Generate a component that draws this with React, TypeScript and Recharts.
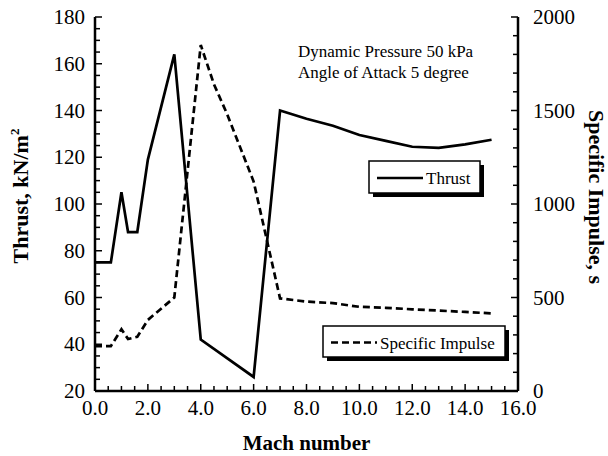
import React from "react";
import { LineChart, Line, XAxis, YAxis, Legend } from "recharts";

// Mach sweep at q = 50 kPa, alpha = 5 deg
const mach = [0, 0.6, 1.0, 1.25, 1.6, 2.0, 3.0, 4.0, 4.5, 5.0, 6.0, 7.0, 8.0, 9.0, 10.0, 11.0, 12.0, 13.0, 14.0, 15.0];
const thrust = [75, 75, 105, 88, 88, 119, 164, 42, null, null, 26, 140, 136.5, 133.5, 129.5, 127, 124.5, 124, 125.5, 127.5];
const specificImpulse = [240, 240, 330, 278, 290, 380, 500, 1850, 1640, 1480, 1120, 495, 478, 470, 450, 445, 437, 430, 423, 415];

const machLabels = [0, 2, 4, 6, 8, 10, 12, 14, 16];
const thrustLabels = [20, 40, 60, 80, 100, 120, 140, 160, 180];
const ispLabels = [0, 500, 1000, 1500, 2000];

const annotation = ["Dynamic Pressure 50 kPa", "Angle of Attack 5 degree"];

// minor ticks between the labelled ones
const withMinor = (labels: number[], parts: number) => {
  const out: number[] = [];
  labels.forEach((v, i) => {
    out.push(v);
    if (i < labels.length - 1) {
      const step = (labels[i + 1] - v) / parts;
      for (let k = 1; k < parts; k++) out.push(v + step * k);
    }
  });
  return out;
};

const machTicks = withMinor(machLabels, 4);
const thrustTicks = withMinor(thrustLabels, 4);
const ispTicks = withMinor(ispLabels, 5);

const rows = mach.map((m, i) => ({ mach: m, thrust: thrust[i], isp: specificImpulse[i] }));

const FONT = "Liberation Serif, DejaVu Serif, serif";
const fontStyle = { fontFamily: FONT };

const BottomTick = ({ x, y, payload }: any) => {
  const major = machLabels.includes(payload.value);
  return (
    <g>
      <line x1={x} y1={y} x2={x} y2={y - (major ? 7 : 5)} stroke="#000" strokeWidth={1.5} />
      {major && (
        <text x={x} y={y + 24} textAnchor="middle" fontSize={21} style={fontStyle} fill="#000">
          {payload.value.toFixed(1)}
        </text>
      )}
    </g>
  );
};

const TopTick = ({ x, y, payload }: any) => {
  const major = machLabels.includes(payload.value);
  return <line x1={x} y1={y} x2={x} y2={y + (major ? 7 : 5)} stroke="#000" strokeWidth={1.5} />;
};

const LeftTick = ({ x, y, payload }: any) => {
  const major = thrustLabels.includes(payload.value);
  return (
    <g>
      <line x1={x} y1={y} x2={x + (major ? 7 : 5)} y2={y} stroke="#000" strokeWidth={1.5} />
      {major && (
        <text x={x - 10} y={y + 7} textAnchor="end" fontSize={21} style={fontStyle} fill="#000">
          {payload.value}
        </text>
      )}
    </g>
  );
};

const RightTick = ({ x, y, payload }: any) => {
  const major = ispLabels.includes(payload.value);
  return (
    <g>
      <line x1={x} y1={y} x2={x - (major ? 7 : 5)} y2={y} stroke="#000" strokeWidth={1.5} />
      {major && (
        <text x={x + 15} y={y + 7} textAnchor="start" fontSize={21} style={fontStyle} fill="#000">
          {payload.value}
        </text>
      )}
    </g>
  );
};

const legendBoxes: Record<string, { x: number; y: number; w: number; h: number }> = {
  thrust: { x: 369, y: 161, w: 111, h: 32 },
  isp: { x: 323, y: 326, w: 182, h: 31 },
};

const renderLegend = ({ payload }: any) => (
  <svg width={608} height={456} style={{ display: "block" }}>
    {(payload || []).map((entry: any) => {
      const b = legendBoxes[entry.dataKey];
      if (!b) return null;
      const cy = b.y + b.h / 2 + 1;
      return (
        <g key={entry.dataKey}>
          <rect x={b.x + 4} y={b.y + 4} width={b.w} height={b.h} fill="#000" />
          <rect x={b.x} y={b.y} width={b.w} height={b.h} fill="#fff" stroke="#000" strokeWidth={1.5} />
          <line
            x1={b.x + 8}
            x2={b.x + 54}
            y1={cy}
            y2={cy}
            stroke="#000"
            strokeWidth={2.5}
            strokeDasharray={entry.payload?.strokeDasharray}
          />
          <text x={b.x + 57} y={cy + 6} fontSize={17} style={fontStyle} fill="#000">
            {entry.value}
          </text>
        </g>
      );
    })}
  </svg>
);

export default function App() {
  return (
    <div style={{ position: "absolute", left: 0, top: 0, width: 608, height: 456, background: "#fff", fontFamily: FONT }}>
      <LineChart width={608} height={456} data={rows} margin={{ top: 17, right: 0, bottom: 0, left: 0 }}>
        <XAxis
          xAxisId="b"
          dataKey="mach"
          type="number"
          domain={[0, 16]}
          ticks={machTicks}
          interval={0}
          height={65}
          tickSize={0}
          tickMargin={0}
          tickLine={false}
          tick={BottomTick}
          axisLine={{ stroke: "#000", strokeWidth: 2.5 }}
          label={({ viewBox }: any) => (
            <text x={viewBox.x + viewBox.width / 2} y={viewBox.y + 59} textAnchor="middle" fontSize={21} fontWeight="bold" style={fontStyle} fill="#000">
              Mach number
            </text>
          )}
        />
        <XAxis
          xAxisId="t"
          orientation="top"
          dataKey="mach"
          type="number"
          domain={[0, 16]}
          ticks={machTicks}
          interval={0}
          height={0}
          tickSize={0}
          tickMargin={0}
          tickLine={false}
          tick={TopTick}
          axisLine={{ stroke: "#000", strokeWidth: 2.5 }}
        />
        <YAxis
          yAxisId="thrust"
          domain={[20, 180]}
          ticks={thrustTicks}
          interval={0}
          width={95}
          tickSize={0}
          tickMargin={0}
          tickLine={false}
          tick={LeftTick}
          axisLine={{ stroke: "#000", strokeWidth: 2.5 }}
          label={({ viewBox }: any) => {
            const cy = viewBox.y + viewBox.height / 2 - 8;
            return (
              <text x={28} y={cy} transform={`rotate(-90, 28, ${cy})`} textAnchor="middle" fontSize={22} fontWeight="bold" style={fontStyle} fill="#000">
                Thrust, kN/m<tspan dy={-9} fontSize={13}>2</tspan>
              </text>
            );
          }}
        />
        <YAxis
          yAxisId="isp"
          orientation="right"
          domain={[0, 2000]}
          ticks={ispTicks}
          interval={0}
          width={90}
          tickSize={0}
          tickMargin={0}
          tickLine={false}
          tick={RightTick}
          axisLine={{ stroke: "#000", strokeWidth: 2.5 }}
          label={({ viewBox }: any) => {
            const cy = viewBox.y + viewBox.height / 2 - 7;
            const bx = viewBox.x + 71;
            return (
              <text x={bx} y={cy} transform={`rotate(90, ${bx}, ${cy})`} textAnchor="middle" fontSize={22} fontWeight="bold" style={fontStyle} fill="#000">
                Specific Impulse, s
              </text>
            );
          }}
        />
        <Legend
          layout="vertical"
          align="center"
          verticalAlign="middle"
          wrapperStyle={{ left: 0, top: 0, width: 608, height: 456, pointerEvents: "none" }}
          content={renderLegend}
        />
        <Line
          xAxisId="b"
          yAxisId="thrust"
          dataKey="thrust"
          name="Thrust"
          type="linear"
          stroke="#000"
          strokeWidth={2.7}
          dot={false}
          connectNulls
          isAnimationActive={false}
        />
        <Line
          xAxisId="b"
          yAxisId="isp"
          dataKey="isp"
          name="Specific Impulse"
          type="linear"
          stroke="#000"
          strokeWidth={2.7}
          strokeDasharray="7 4"
          dot={false}
          isAnimationActive={false}
        />
      </LineChart>
      <svg width={608} height={456} style={{ position: "absolute", left: 0, top: 0, pointerEvents: "none" }}>
        {annotation.map((line, i) => (
          <text key={line} x={298} y={57 + i * 21} fontSize={17} style={fontStyle} fill="#000">
            {line}
          </text>
        ))}
      </svg>
    </div>
  );
}
